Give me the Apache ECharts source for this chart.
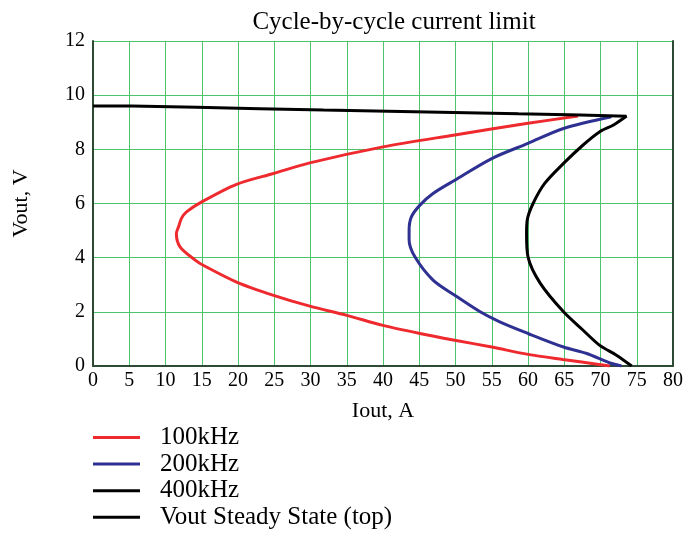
<!DOCTYPE html>
<html>
<head>
<meta charset="utf-8">
<script src="https://cdn.jsdelivr.net/npm/echarts@6/dist/echarts.min.js"></script>
<style>
  html, body { margin: 0; padding: 0; background: #fff; }
  #chart { width: 689px; height: 537px; }
</style>
</head>
<body>
<div id="chart"></div>
<script>
// curves as [Iout, Vout]
const curve100k = [
  [66.9, 9.23], [60.0, 8.96], [49.9, 8.53], [40.0, 8.09], [29.9, 7.50], [24.9, 7.11],
  [19.8, 6.71], [15.0, 6.06], [12.9, 5.69], [12.2, 5.45], [11.8, 5.14], [11.5, 4.89], [12.0, 4.40],
  [14.1, 3.91], [15.2, 3.72], [19.8, 3.10], [24.9, 2.61], [29.9, 2.21], [35.0, 1.87],
  [40.0, 1.50], [45.1, 1.20], [49.9, 0.95], [55.0, 0.70], [60.0, 0.43], [64.8, 0.24],
  [70.0, 0.05], [71.3, 0]
]
const curve200k = [
  [71.5, 9.20], [64.9, 8.77], [60.0, 8.22], [55.0, 7.66], [49.9, 6.86], [46.9, 6.37],
  [45.1, 5.94], [43.9, 5.50], [43.6, 5.01], [43.6, 4.65], [44.4, 4.03], [46.9, 3.17],
  [49.9, 2.61], [53.4, 2.00], [56.1, 1.63], [60.0, 1.20], [64.9, 0.70], [68.1, 0.46],
  [71.3, 0.11], [72.9, 0]
]
const curve400k = [
  [73.6, 9.23], [71.8, 8.90], [69.9, 8.65], [67.6, 8.16], [64.9, 7.48], [62.3, 6.74],
  [60.7, 6.00], [59.9, 5.40], [59.8, 4.89], [60.0, 4.03], [61.7, 3.05], [64.9, 2.00],
  [67.6, 1.32], [69.9, 0.76], [72.2, 0.40], [74.3, 0]
]
const steadyState = [
  [0, 9.60], [5.3, 9.55], [14.3, 9.50], [23.0, 9.45], [31.8, 9.41], [40.7, 9.36],
  [49.7, 9.31], [58.7, 9.27], [67.2, 9.22], [73.6, 9.22]
]
const seriesNames = ['100kHz', '200kHz', '400kHz', 'Vout Steady State (top)']
const seriesColors = ['#ee2a2f', '#2e3192', '#000000', '#000000']

const font = '"Liberation Serif", "Times New Roman", serif'
const chart = echarts.init(document.getElementById('chart'))

const lineSeries = (i, data, extra) => Object.assign({
  name: seriesNames[i],
  type: 'line',
  data: data,
  symbol: 'none',
  smooth: 0.3,
  lineStyle: { color: seriesColors[i], width: 3 },
  itemStyle: { color: seriesColors[i] }
}, extra || {})

chart.setOption({
  animation: false,
  title: {
    text: 'Cycle-by-cycle current limit',
    left: 389,
    textAlign: 'center',
    top: 5,
    textStyle: { fontFamily: font, fontSize: 25, fontWeight: 'normal', color: '#000' }
  },
  legend: {
    orient: 'vertical',
    left: 93,
    top: 425,
    height: 140,
    padding: 0,
    icon: 'rect',
    itemWidth: 47,
    itemHeight: 3,
    itemGap: 1.6,
    data: seriesNames,
    textStyle: { fontFamily: font, fontSize: 25, color: '#000', lineHeight: 24, padding: [0, 0, 0, 15] }
  },
  grid: { left: 93, right: 16, top: 41, bottom: 171 },
  xAxis: {
    type: 'value',
    min: 0, max: 80, interval: 5,
    name: 'Iout, A',
    nameLocation: 'middle',
    nameGap: 34,
    nameTextStyle: { fontFamily: font, fontSize: 22, color: '#000' },
    axisLine: { lineStyle: { color: '#2d4a35', width: 2 } },
    axisTick: { show: false },
    axisLabel: { fontFamily: font, fontSize: 20, color: '#000', margin: 5 },
    splitLine: { show: true, lineStyle: { color: '#4cc46c', width: 1 } }
  },
  yAxis: [{
    type: 'value',
    min: 0, max: 12, interval: 2,
    name: 'Vout, V',
    nameLocation: 'middle',
    nameGap: 61,
    nameTextStyle: { fontFamily: font, fontSize: 22, color: '#000' },
    axisLine: { show: true, lineStyle: { color: '#2d4a35', width: 2 } },
    axisTick: { show: false },
    axisLabel: { fontFamily: font, fontSize: 20, color: '#000', margin: 8 },
    splitLine: { show: true, lineStyle: { color: '#4cc46c', width: 1 } }
  }, {
    type: 'value',
    position: 'right',
    min: 0, max: 12, interval: 2,
    axisLine: { show: true, lineStyle: { color: '#2d4a35', width: 2 } },
    axisTick: { show: false },
    axisLabel: { show: false },
    splitLine: { show: false }
  }],
  series: [
    lineSeries(0, curve100k),
    lineSeries(1, curve200k),
    lineSeries(2, curve400k),
    lineSeries(3, steadyState, { smooth: false, step: 'end' })
  ]
})
</script>
</body>
</html>
